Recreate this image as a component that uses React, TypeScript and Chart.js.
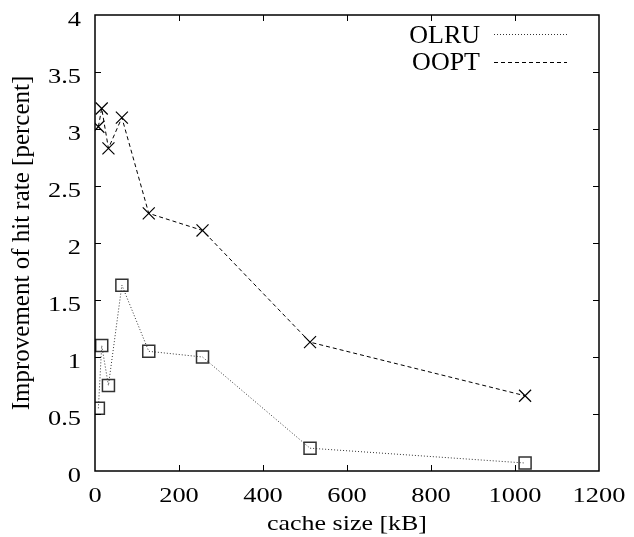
import React, { useEffect, useRef } from "react";
import { Chart, registerables } from "chart.js";

Chart.register(...registerables);

const cacheSizes = [8, 16, 32, 64, 128, 256, 512, 1024];
const olru = [0.55, 1.1, 0.75, 1.63, 1.05, 1.0, 0.2, 0.07];
const oopt = [3.02, 3.18, 2.83, 3.1, 2.26, 2.11, 1.13, 0.66];
const seriesNames = ["OLRU", "OOPT"];
const xTitle = "cache size [kB]";
const yTitle = "Improvement of hit rate [percent]";

const FONT = "'Liberation Serif', 'Times New Roman', serif";
const STRETCH = 1.2;

function stretchedText(ctx: any, text: string, x: number, y: number, align: string, sx: number) {
  ctx.save();
  ctx.translate(x, y);
  ctx.scale(sx, 1);
  ctx.textAlign = align;
  ctx.fillText(text, 0, 0);
  ctx.restore();
}

const framePlugin = {
  id: "frame",
  afterDraw(chart: any) {
    const { ctx, chartArea } = chart;
    const { left, right, top, bottom } = chartArea;
    const xs = chart.scales.x;
    const ys = chart.scales.y;
    ctx.save();
    ctx.strokeStyle = "#000";
    ctx.lineWidth = 1.5;
    ctx.strokeRect(left, top, right - left, bottom - top);
    ctx.lineWidth = 1;
    const tl = 6;
    ctx.beginPath();
    xs.ticks.forEach((t: any) => {
      const px = Math.round(xs.getPixelForValue(t.value)) + 0.5;
      if (Math.abs(px - left) < 2 || Math.abs(px - right) < 2) return;
      ctx.moveTo(px, bottom);
      ctx.lineTo(px, bottom - tl);
      ctx.moveTo(px, top);
      ctx.lineTo(px, top + tl);
    });
    ys.ticks.forEach((t: any) => {
      const py = Math.round(ys.getPixelForValue(t.value)) + 0.5;
      if (Math.abs(py - top) < 2 || Math.abs(py - bottom) < 2) return;
      ctx.moveTo(left, py);
      ctx.lineTo(left + tl, py);
      ctx.moveTo(right, py);
      ctx.lineTo(right - tl, py);
    });
    ctx.stroke();

    // tick labels
    ctx.fillStyle = "#000";
    ctx.textBaseline = "alphabetic";
    ctx.font = `22px ${FONT}`;
    xs.ticks.forEach((t: any) => {
      const px = xs.getPixelForValue(t.value);
      stretchedText(ctx, String(t.value), px, bottom + 31, "center", STRETCH);
    });
    ys.ticks.forEach((t: any) => {
      const py = ys.getPixelForValue(t.value);
      stretchedText(ctx, String(t.value), left - 14, py + 10.5, "right", STRETCH);
    });

    // axis titles
    ctx.font = `22px ${FONT}`;
    stretchedText(ctx, xTitle, (left + right) / 2, 530, "center", 1.18);
    ctx.save();
    ctx.font = `25px ${FONT}`;
    ctx.translate(28.5, (top + bottom) / 2);
    ctx.rotate(-Math.PI / 2);
    ctx.textAlign = "center";
    ctx.fillText(yTitle, 0, 0);
    ctx.restore();

    // legend (gnuplot style: text then line sample)
    ctx.font = `26px ${FONT}`;
    ctx.textAlign = "right";
    const ds = chart.data.datasets;
    const textBase = [43, 70];
    const lineY = [34, 62];
    ds.forEach((d: any, i: number) => {
      ctx.fillStyle = "#000";
      ctx.fillText(d.label, 480, textBase[i]);
      ctx.beginPath();
      ctx.strokeStyle = d.borderColor;
      ctx.lineWidth = 1;
      ctx.setLineDash(d.borderDash);
      ctx.moveTo(494, lineY[i] + 0.5);
      ctx.lineTo(567, lineY[i] + 0.5);
      ctx.stroke();
      ctx.setLineDash([]);
    });
    ctx.restore();
  },
};

export default function App() {
  const ref = useRef<HTMLCanvasElement>(null);
  useEffect(() => {
    if (!ref.current) return;
    const chart = new Chart(ref.current, {
      type: "line",
      data: {
        datasets: [
          {
            label: seriesNames[0],
            data: cacheSizes.map((x, i) => ({ x, y: olru[i] })),
            borderColor: "#333",
            borderWidth: 1,
            borderDash: [1, 2],
            pointStyle: "rect",
            pointRadius: 8.5,
            pointBorderWidth: 1.5,
            pointBorderColor: "#333",
            pointBackgroundColor: "rgba(0,0,0,0)",
            fill: false,
          },
          {
            label: seriesNames[1],
            data: cacheSizes.map((x, i) => ({ x, y: oopt[i] })),
            borderColor: "#000",
            borderWidth: 1,
            borderDash: [4, 3],
            pointStyle: "crossRot",
            pointRadius: 8.5,
            pointBorderWidth: 1.2,
            pointBorderColor: "#000",
            pointBackgroundColor: "rgba(0,0,0,0)",
            fill: false,
          },
        ],
      },
      options: {
        responsive: false,
        animation: false,
        layout: { padding: { top: 15, right: 35, left: 0, bottom: 0 } },
        plugins: { legend: { display: false }, tooltip: { enabled: false } },
        scales: {
          x: {
            type: "linear",
            min: 0,
            max: 1200,
            border: { display: false },
            grid: { display: false },
            ticks: { stepSize: 200, display: false },
            title: { display: false },
            afterFit(scale: any) {
              scale.height = 66;
              scale.paddingLeft = 0;
              scale.paddingRight = 0;
            },
          },
          y: {
            type: "linear",
            min: 0,
            max: 4,
            border: { display: false },
            grid: { display: false },
            ticks: { stepSize: 0.5, display: false },
            title: { display: false },
            afterFit(scale: any) {
              scale.width = 95;
              scale.paddingTop = 0;
              scale.paddingBottom = 0;
            },
          },
        },
      },
      plugins: [framePlugin],
    });
    return () => chart.destroy();
  }, []);
  return (
    <div style={{ position: "absolute", left: 0, top: 0, width: 634, height: 537, background: "#fff" }}>
      <canvas ref={ref} width={634} height={537} />
    </div>
  );
}
